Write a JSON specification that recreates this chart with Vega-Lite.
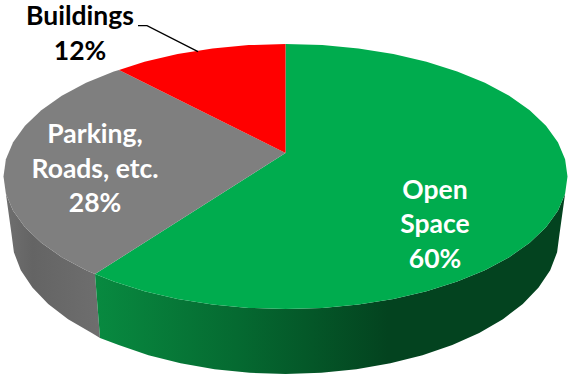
{
  "$schema": "https://vega.github.io/schema/vega-lite/v6.json",
  "width": 569,
  "height": 375,
  "padding": 0,
  "autosize": {"type": "none"},
  "background": "white",
  "view": {"stroke": null},
  "datasets": {
    "openSide": [
      {"seq":1,"x":567.5,"y":176.5},{"seq":2,"x":565.1,"y":193.8},{"seq":3,"x":557.9,"y":210.8},{"seq":4,"x":546,"y":227.2},{"seq":5,"x":529.7,"y":242.8},{"seq":6,"x":509.2,"y":257.2},{"seq":7,"x":484.9,"y":270.2},{"seq":8,"x":457.2,"y":281.6},{"seq":9,"x":426.5,"y":291.2},{"seq":10,"x":393.4,"y":298.9},{"seq":11,"x":358.5,"y":304.5},{"seq":12,"x":322.3,"y":307.9},{"seq":13,"x":285.5,"y":309},{"seq":14,"x":248.7,"y":307.9},{"seq":15,"x":212.5,"y":304.5},{"seq":16,"x":177.6,"y":298.9},{"seq":17,"x":144.5,"y":291.2},{"seq":18,"x":113.8,"y":281.6},{"seq":19,"x":95,"y":274},
      {"seq":20,"x":100,"y":338},{"seq":21,"x":118.7,"y":345.1},{"seq":22,"x":148.5,"y":355.2},{"seq":23,"x":180.6,"y":363.3},{"seq":24,"x":214.6,"y":369.2},{"seq":25,"x":249.7,"y":372.8},{"seq":26,"x":285.5,"y":374},{"seq":27,"x":321.3,"y":372.8},{"seq":28,"x":356.4,"y":369.2},{"seq":29,"x":390.4,"y":363.3},{"seq":30,"x":422.5,"y":355.2},{"seq":31,"x":452.3,"y":345.1},{"seq":32,"x":479.2,"y":333},{"seq":33,"x":502.9,"y":319.2},{"seq":34,"x":522.8,"y":304},{"seq":35,"x":538.6,"y":287.6},{"seq":36,"x":550.2,"y":270.2},{"seq":37,"x":557.1,"y":252.3},{"seq":38,"x":559.5,"y":234}
    ],
    "parkingSide": [
      {"seq":1,"x":95,"y":274},{"seq":2,"x":86.1,"y":270.2},{"seq":3,"x":61.8,"y":257.2},{"seq":4,"x":41.3,"y":242.8},{"seq":5,"x":25,"y":227.2},{"seq":6,"x":13.1,"y":210.8},{"seq":7,"x":5.9,"y":193.8},{"seq":8,"x":3.5,"y":176.5},
      {"seq":9,"x":11.5,"y":234},{"seq":10,"x":13.9,"y":252.3},{"seq":11,"x":20.8,"y":270.2},{"seq":12,"x":32.4,"y":287.6},{"seq":13,"x":48.2,"y":304},{"seq":14,"x":68.1,"y":319.2},{"seq":15,"x":91.8,"y":333},{"seq":16,"x":100,"y":338}
    ],
    "openTop": [
      {"seq":0,"x":285.5,"y":153},{"seq":1,"x":285.5,"y":44},{"seq":2,"x":322.3,"y":45.1},{"seq":3,"x":358.5,"y":48.5},{"seq":4,"x":393.4,"y":54.1},{"seq":5,"x":426.5,"y":61.8},{"seq":6,"x":457.2,"y":71.4},{"seq":7,"x":484.9,"y":82.8},{"seq":8,"x":509.2,"y":95.8},{"seq":9,"x":529.7,"y":110.2},{"seq":10,"x":546,"y":125.8},{"seq":11,"x":557.9,"y":142.2},{"seq":12,"x":565.1,"y":159.2},{"seq":13,"x":567.5,"y":176.5},{"seq":14,"x":565.1,"y":193.8},{"seq":15,"x":557.9,"y":210.8},{"seq":16,"x":546,"y":227.2},{"seq":17,"x":529.7,"y":242.8},{"seq":18,"x":509.2,"y":257.2},{"seq":19,"x":484.9,"y":270.2},{"seq":20,"x":457.2,"y":281.6},{"seq":21,"x":426.5,"y":291.2},{"seq":22,"x":393.4,"y":298.9},{"seq":23,"x":358.5,"y":304.5},{"seq":24,"x":322.3,"y":307.9},{"seq":25,"x":285.5,"y":309},{"seq":26,"x":248.7,"y":307.9},{"seq":27,"x":212.5,"y":304.5},{"seq":28,"x":177.6,"y":298.9},{"seq":29,"x":144.5,"y":291.2},{"seq":30,"x":113.8,"y":281.6},{"seq":31,"x":95,"y":274}
    ],
    "parkingTop": [
      {"seq":0,"x":285.5,"y":153},{"seq":1,"x":95,"y":274},{"seq":2,"x":86.1,"y":270.2},{"seq":3,"x":61.8,"y":257.2},{"seq":4,"x":41.3,"y":242.8},{"seq":5,"x":25,"y":227.2},{"seq":6,"x":13.1,"y":210.8},{"seq":7,"x":5.9,"y":193.8},{"seq":8,"x":3.5,"y":176.5},{"seq":9,"x":5.9,"y":159.2},{"seq":10,"x":13.1,"y":142.2},{"seq":11,"x":25,"y":125.8},{"seq":12,"x":41.3,"y":110.2},{"seq":13,"x":61.8,"y":95.8},{"seq":14,"x":86.1,"y":82.8},{"seq":15,"x":113.8,"y":71.4},{"seq":16,"x":119,"y":70}
    ],
    "buildingsTop": [
      {"seq":0,"x":285.5,"y":153},{"seq":1,"x":119,"y":70},{"seq":2,"x":144.5,"y":61.8},{"seq":3,"x":177.6,"y":54.1},{"seq":4,"x":212.5,"y":48.5},{"seq":5,"x":248.7,"y":45.1},{"seq":6,"x":285.5,"y":44}
    ],
    "leader": [
      {"seq":1,"x":138,"y":25.7},{"seq":2,"x":147,"y":25.7},{"seq":3,"x":198,"y":51.7}
    ],
    "labels": [
      {"slice":"Buildings","value":12,"label":"Buildings\n12%","x":80,"y":17,"tone":"dark"},
      {"slice":"Parking, Roads, etc.","value":28,"label":"Parking,\nRoads, etc.\n28%","x":95,"y":135,"tone":"light"},
      {"slice":"Open Space","value":60,"label":"Open\nSpace\n60%","x":435,"y":190.5,"tone":"light"}
    ]
  },
  "encoding": {
    "x": {"field": "x", "type": "quantitative", "scale": {"domain": [0, 569]}, "axis": null},
    "y": {"field": "y", "type": "quantitative", "scale": {"domain": [375, 0]}, "axis": null}
  },
  "layer": [
    {
      "data": {"name": "parkingSide"},
      "mark": {"type": "line", "strokeWidth": 0, "fill": {"x1": 0, "y1": 0, "x2": 1, "y2": 0, "gradient": "linear", "stops": [{"offset": 0, "color": "#707070"}, {"offset": 0.3, "color": "#646464"}, {"offset": 1, "color": "#6e6e6e"}]}},
      "encoding": {"order": {"field": "seq", "type": "quantitative"}}
    },
    {
      "data": {"name": "openSide"},
      "mark": {"type": "line", "strokeWidth": 0, "fill": {"x1": 0, "y1": 0, "x2": 1, "y2": 0, "gradient": "linear", "stops": [{"offset": 0, "color": "#088a40"}, {"offset": 0.3, "color": "#056a31"}, {"offset": 0.62, "color": "#03431f"}, {"offset": 1, "color": "#03431f"}]}},
      "encoding": {"order": {"field": "seq", "type": "quantitative"}}
    },
    {
      "data": {"name": "openTop"},
      "mark": {"type": "line", "strokeWidth": 0, "fill": "#00ac4e"},
      "encoding": {"order": {"field": "seq", "type": "quantitative"}}
    },
    {
      "data": {"name": "parkingTop"},
      "mark": {"type": "line", "strokeWidth": 0, "fill": "#7f7f7f"},
      "encoding": {"order": {"field": "seq", "type": "quantitative"}}
    },
    {
      "data": {"name": "buildingsTop"},
      "mark": {"type": "line", "strokeWidth": 0, "fill": "#ff0000"},
      "encoding": {"order": {"field": "seq", "type": "quantitative"}}
    },
    {
      "data": {"name": "leader"},
      "mark": {"type": "line", "stroke": "#000000", "strokeWidth": 1.3},
      "encoding": {"order": {"field": "seq", "type": "quantitative"}}
    },
    {
      "data": {"name": "labels"},
      "mark": {"type": "text", "font": "Lato", "fontWeight": "bold", "fontSize": 26.5, "lineHeight": 34.5, "lineBreak": "\n", "align": "center", "baseline": "middle"},
      "encoding": {
        "text": {"field": "label", "type": "nominal"},
        "color": {"field": "tone", "type": "nominal", "scale": {"domain": ["dark", "light"], "range": ["#000000", "#ffffff"]}, "legend": null}
      }
    }
  ]
}
